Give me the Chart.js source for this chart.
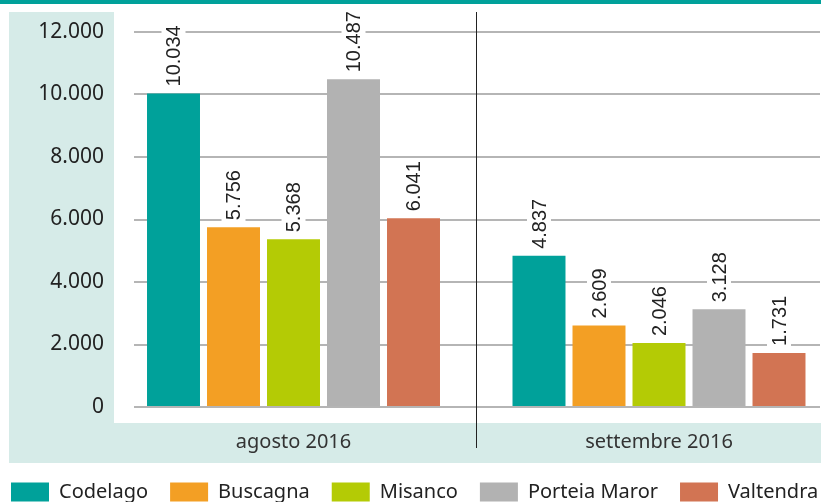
<!DOCTYPE html>
<html>
<head>
<meta charset="utf-8">
<script src="https://cdn.jsdelivr.net/npm/chart.js@4.4.1/dist/chart.umd.min.js"></script>
<style>
  html, body { margin: 0; padding: 0; background: #fff; overflow: hidden; }
  #wrap { position: relative; width: 821px; height: 502px; overflow: hidden; }
  #wrap canvas { position: absolute; left: -11px; top: 0; }
</style>
</head>
<body>
<div id="wrap"><canvas id="consumiChart" width="861" height="512"></canvas></div>
<script>
// dati
const mesi = ["agosto 2016", "settembre 2016"];
const societa = ["Codelago", "Buscagna", "Misanco", "Porteia Maror", "Valtendra"];
const colori = ["#00a19a", "#f39f24", "#b4cb05", "#b2b2b2", "#d27453"];
const codelago = [10034, 4837];
const buscagna = [5756, 2609];
const misanco = [5368, 2046];
const porteiaMaror = [10487, 3128];
const valtendra = [6041, 1731];
const yTicks = [0, 2000, 4000, 6000, 8000, 10000, 12000];

const serie = [codelago, buscagna, misanco, porteiaMaror, valtendra];

function formatta(n) {
    return String(n).replace(/\B(?=(\d{3})+(?!\d))/g, ".");
}

// fondi colorati dietro gli assi
const sfondoPlugin = {
    id: "sfondo",
    beforeDraw(chart) {
        const ctx = chart.ctx;
        ctx.save();
        ctx.fillStyle = "#d6ebe8";
        ctx.fillRect(20, 12, 105, 451);
        ctx.fillRect(20, 423, 841, 40);
        ctx.fillStyle = "#00a19a";
        ctx.fillRect(0, 0, 861, 4);
        ctx.restore();
    },
    beforeDatasetsDraw(chart) {
        const ctx = chart.ctx;
        const x = Math.round(chart.scales.x.getPixelForValue(0.5)) + 0.5;
        ctx.save();
        ctx.strokeStyle = "#222";
        ctx.lineWidth = 1;
        ctx.beginPath();
        ctx.moveTo(x, 12);
        ctx.lineTo(x, 448);
        ctx.stroke();
        ctx.restore();
    }
};

// etichette verticali sopra le barre
const etichettePlugin = {
    id: "etichette",
    afterDatasetsDraw(chart) {
        const ctx = chart.ctx;
        chart.data.datasets.forEach((ds, di) => {
            chart.getDatasetMeta(di).data.forEach((bar, i) => {
                const testo = formatta(ds.data[i].y);
                ctx.save();
                ctx.translate(bar.x, bar.y - 7);
                ctx.rotate(-Math.PI / 2);
                ctx.font = '20px "Liberation Sans"';
                const w = ctx.measureText(testo).width;
                ctx.fillStyle = "#fff";
                ctx.fillRect(-2, -12, w + 4, 24);
                ctx.fillStyle = "#222";
                ctx.textAlign = "left";
                ctx.textBaseline = "middle";
                ctx.fillText(testo, 0, 1);
                ctx.restore();
            });
        });
    }
};

new Chart("consumiChart", {
    type: "bar",
    data: {
        datasets: societa.map((nome, k) => ({
            label: nome,
            backgroundColor: colori[k],
            borderWidth: 0,
            data: mesi.map((m, i) => ({ x: i, y: serie[k][i] }))
        }))
    },
    options: {
        responsive: false,
        animation: false,
        devicePixelRatio: 1,
        categoryPercentage: 0.8208,
        barPercentage: 0.883,
        layout: { padding: { top: 32, right: 0, left: 0, bottom: 0 } },
        scales: {
            x: {
                type: "linear",
                offset: false,
                min: -0.4364,
                max: 1.4405,
                afterBuildTicks: s => { s.ticks = mesi.map((m, i) => ({ value: i })); },
                afterFit: s => { s.height = 53; s.paddingLeft = 0; s.paddingRight = 0; },
                grid: { display: false, drawTicks: false },
                border: { display: false },
                ticks: {
                    padding: 23,
                    color: "#333",
                    font: { family: "Noto Sans", size: 20 },
                    callback: v => mesi[Math.round(v)]
                }
            },
            y: {
                min: 0,
                max: 12000,
                afterBuildTicks: s => { s.ticks = yTicks.map(v => ({ value: v })); },
                afterFit: s => { s.width = 145; s.paddingTop = 0; s.paddingBottom = 0; },
                grid: { color: "#b5b5b5", lineWidth: 2, drawTicks: false },
                border: { display: false },
                ticks: {
                    padding: 30,
                    color: "#222",
                    font: { family: "Noto Sans", size: 21 },
                    callback: v => formatta(v)
                }
            },
            // asse vuoto a destra, solo per lasciare il margine
            margine: {
                type: "linear",
                axis: "y",
                position: "right",
                grid: { display: false, drawTicks: false },
                border: { display: false },
                ticks: { display: false },
                afterFit: s => { s.width = 30; s.paddingTop = 0; s.paddingBottom = 0; }
            }
        },
        plugins: {
            legend: {
                position: "bottom",
                align: "start",
                labels: {
                    boxWidth: 38,
                    boxHeight: 19,
                    padding: 22,
                    color: "#222",
                    font: { family: "Noto Sans", size: 20 }
                }
            },
            tooltip: { enabled: false }
        }
    },
    plugins: [sfondoPlugin, etichettePlugin]
});
</script>
</body>
</html>
